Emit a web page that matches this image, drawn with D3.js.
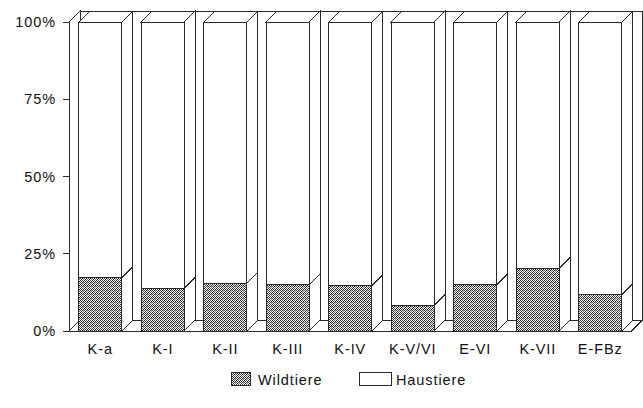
<!DOCTYPE html>
<html>
<head>
<meta charset="utf-8">
<script src="https://cdn.jsdelivr.net/npm/d3@7/dist/d3.min.js"></script>
<style>
  html, body { margin: 0; padding: 0; background: #fff; }
  svg { display: block; }
  text { font-family: "Liberation Sans", Arial, sans-serif; fill: #111; }
</style>
</head>
<body>
<svg id="chart" width="643" height="408"></svg>
<script>
// Anteile Wild- und Haustiere je Fundkomplex (in %)
const categories = ["K-a", "K-I", "K-II", "K-III", "K-IV", "K-V/VI", "E-VI", "K-VII", "E-FBz"];
const wildtiere  = [17.2, 13.8, 15.4, 15.0, 14.6, 8.3, 14.9, 20.3, 11.7];
const haustiere  = wildtiere.map(v => 100 - v);
const seriesNames = ["Wildtiere", "Haustiere"];
const yTicks = [0, 25, 50, 75, 100];

const svg = d3.select("#chart");
const depth = 11;                 // 3D offset of the back plane
const x0 = 69, x1 = 631.5;        // front floor edge
const yTop = 22, yBottom = 331;
const barW = 43;
const ink = "#2a2a2a";
const fontSize = 14.5;
const spacing = 0.9;

const x = d3.scaleBand().domain(categories).range([x0, x1]).padding(0);
const y = d3.scaleLinear().domain([0, 100]).range([yBottom, yTop]);

// stipple fill for the Wildtiere share
const defs = svg.append("defs");
const pat = defs.append("pattern")
  .attr("id", "stipple").attr("patternUnits", "userSpaceOnUse")
  .attr("width", 4).attr("height", 4);
pat.append("rect").attr("width", 4).attr("height", 4).attr("fill", "#fff");
const dots = [
  [0,0,"#222"],[2,0,"#555"],[1,1,"#333"],[3,1,"#222"],
  [0,2,"#444"],[2,2,"#222"],[1,3,"#222"],[3,3,"#777"],[3,2,"#bbb"]
];
dots.forEach(([px, py, c]) =>
  pat.append("rect").attr("x", px).attr("y", py).attr("width", 1).attr("height", 1).attr("fill", c));

const poly = pts => pts.map(p => p.join(",")).join(" ");
const g = svg.append("g").attr("shape-rendering", "crispEdges");

// back wall, left wall and floor
g.append("polygon")
  .attr("points", poly([[x0 + depth, y(100) - depth], [x1 + depth, y(100) - depth], [x1 + depth, y(0) - depth], [x0 + depth, y(0) - depth]]))
  .attr("fill", "#fff").attr("stroke", ink).attr("stroke-width", 1);
g.append("polygon")
  .attr("points", poly([[x0, y(100)], [x0 + depth, y(100) - depth], [x0 + depth, y(0) - depth], [x0, y(0)]]))
  .attr("fill", "#fff").attr("stroke", ink).attr("stroke-width", 1);
g.append("polygon")
  .attr("points", poly([[x0, y(0)], [x1, y(0)], [x1 + depth, y(0) - depth], [x0 + depth, y(0) - depth]]))
  .attr("fill", "#fff").attr("stroke", ink).attr("stroke-width", 1);

// stacked 3D bars
const stacked = categories.map((c, i) => ({ c, segs: [
  { name: seriesNames[0], lo: 0, hi: wildtiere[i], fill: "url(#stipple)" },
  { name: seriesNames[1], lo: wildtiere[i], hi: wildtiere[i] + haustiere[i], fill: "#fff" }
]}));

const bars = g.selectAll("g.bar").data(stacked).join("g").attr("class", "bar");
bars.each(function(d) {
  const bx = x(d.c) + (x.bandwidth() - barW) / 2;
  const sel = d3.select(this);
  d.segs.forEach((s, k) => {
    const yt = y(s.hi), yb = y(s.lo);
    // right side face
    sel.append("polygon")
      .attr("points", poly([[bx + barW, yb], [bx + barW + depth, yb - depth], [bx + barW + depth, yt - depth], [bx + barW, yt]]))
      .attr("fill", "#fff").attr("stroke", ink).attr("stroke-width", 1);
    // top face of the uppermost segment
    if (k === d.segs.length - 1) {
      sel.append("polygon")
        .attr("points", poly([[bx, yt], [bx + depth, yt - depth], [bx + barW + depth, yt - depth], [bx + barW, yt]]))
        .attr("fill", "#fff").attr("stroke", ink).attr("stroke-width", 1);
    }
    // front face
    sel.append("rect")
      .attr("x", bx).attr("y", yt).attr("width", barW).attr("height", yb - yt)
      .attr("fill", s.fill).attr("stroke", ink).attr("stroke-width", 1);
  });
});

// y axis: ticks and labels
const yAxis = svg.append("g");
yAxis.selectAll("line").data(yTicks).join("line")
  .attr("x1", x0 - 6).attr("x2", x0).attr("y1", d => y(d)).attr("y2", d => y(d))
  .attr("stroke", ink).attr("shape-rendering", "crispEdges");
yAxis.selectAll("text").data(yTicks).join("text")
  .attr("x", x0 - 13).attr("y", d => y(d)).attr("dy", "0.36em")
  .attr("text-anchor", "end").attr("font-size", fontSize).attr("letter-spacing", spacing)
  .text(d => d + "%");

// category labels
svg.append("g").selectAll("text").data(categories).join("text")
  .attr("x", d => x(d) + x.bandwidth() / 2).attr("y", 354)
  .attr("text-anchor", "middle").attr("font-size", fontSize).attr("letter-spacing", spacing)
  .text(d => d);

// legend
const legend = svg.append("g");
const legendItems = [
  { name: seriesNames[0], fill: "url(#stipple)", sx: 231, sw: 19, tx: 258 },
  { name: seriesNames[1], fill: "#fff", sx: 359, sw: 32, tx: 396 }
];
legendItems.forEach(it => {
  legend.append("rect").attr("x", it.sx).attr("y", 372).attr("width", it.sw).attr("height", 13)
    .attr("fill", it.fill).attr("stroke", ink).attr("shape-rendering", "crispEdges");
  legend.append("text").attr("x", it.tx).attr("y", 380).attr("dy", "0.36em")
    .attr("font-size", fontSize).attr("letter-spacing", spacing).text(it.name);
});
</script>
</body>
</html>
